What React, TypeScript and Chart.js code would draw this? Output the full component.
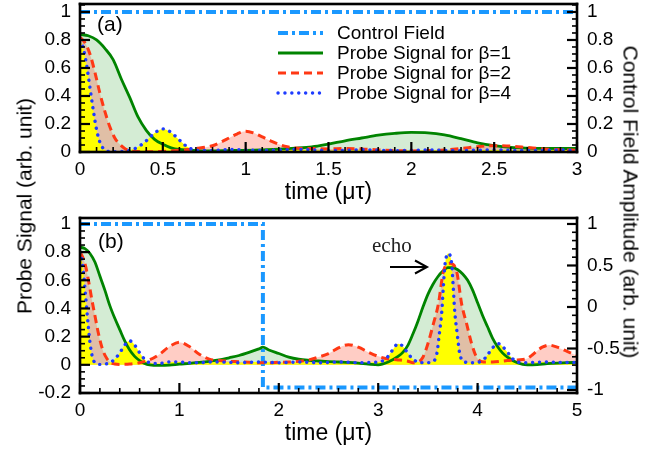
import React, { useEffect, useRef } from "react";
import { Chart, registerables } from "chart.js";

Chart.register(...registerables);

// ---------------- Panel (a) data ----------------
const A_CTRL_T = [0, 3];
const A_CTRL = [1, 1];

const A_G_T = [0, 0.05, 0.1, 0.15, 0.2, 0.25, 0.3, 0.35, 0.4, 0.45, 0.5, 0.55, 0.6, 0.7, 0.8, 0.9, 1.0, 1.1, 1.2, 1.3, 1.4, 1.5, 1.6, 1.7, 1.8, 1.9, 2.0, 2.1, 2.2, 2.3, 2.4, 2.5, 2.6, 2.7, 2.8, 2.9, 3.0];
const A_G = [0.84, 0.83, 0.8, 0.74, 0.66, 0.52, 0.39, 0.25, 0.155, 0.09, 0.055, 0.03, 0.018, 0.01, 0.008, 0.01, 0.012, 0.015, 0.02, 0.027, 0.037, 0.057, 0.08, 0.1, 0.12, 0.133, 0.14, 0.137, 0.122, 0.095, 0.065, 0.045, 0.033, 0.028, 0.026, 0.025, 0.025];

const A_R_T = [0, 0.03, 0.06, 0.09, 0.12, 0.15, 0.18, 0.21, 0.24, 0.27, 0.3, 0.35, 0.4, 0.5, 0.6, 0.7, 0.8, 0.85, 0.9, 0.95, 1.0, 1.05, 1.1, 1.15, 1.2, 1.25, 1.3, 1.4, 1.5, 1.6, 1.7, 1.8, 1.9, 2.0, 2.1, 2.2, 2.3, 2.4, 2.5, 2.6, 2.7, 2.8, 2.9, 3.0];
const A_R = [0.82, 0.78, 0.7, 0.57, 0.42, 0.29, 0.18, 0.1, 0.055, 0.025, 0.01, 0.003, 0.002, 0.004, 0.012, 0.025, 0.045, 0.07, 0.1, 0.13, 0.148, 0.135, 0.108, 0.08, 0.055, 0.037, 0.028, 0.025, 0.022, 0.025, 0.022, 0.015, 0.01, 0.008, 0.01, 0.015, 0.025, 0.038, 0.045, 0.042, 0.032, 0.022, 0.016, 0.013];

const A_B_T = [0, 0.02, 0.04, 0.06, 0.08, 0.1, 0.12, 0.14, 0.16, 0.2, 0.25, 0.3, 0.35, 0.4, 0.45, 0.5, 0.55, 0.6, 0.65, 0.7, 0.8, 0.9, 1.0, 1.1, 1.2, 1.3, 1.4, 1.5, 1.6, 1.7, 1.8, 1.9, 2.0, 2.1, 2.2, 2.3, 2.4, 2.5, 2.6, 2.7, 2.8, 2.9, 3.0];
const A_B = [0.8, 0.74, 0.62, 0.46, 0.3, 0.16, 0.07, 0.025, 0.008, 0.002, 0.003, 0.012, 0.035, 0.08, 0.135, 0.165, 0.14, 0.085, 0.035, 0.012, 0.01, 0.018, 0.015, 0.01, 0.014, 0.018, 0.015, 0.01, 0.012, 0.016, 0.013, 0.01, 0.012, 0.015, 0.012, 0.01, 0.013, 0.016, 0.012, 0.01, 0.012, 0.014, 0.012];

// ---------------- Panel (b) data ----------------
const B_CTRL_T = [0, 1.84, 1.84, 5];
const B_CTRL = [1, 1, -0.97, -0.97];

const B_G_T = [0, 0.05, 0.1, 0.15, 0.2, 0.25, 0.3, 0.35, 0.4, 0.45, 0.5, 0.55, 0.6, 0.65, 0.7, 0.8, 0.9, 1.0, 1.1, 1.2, 1.3, 1.4, 1.5, 1.6, 1.7, 1.8, 1.84, 1.9, 2.0, 2.1, 2.2, 2.3, 2.4, 2.5, 2.6, 2.7, 2.8, 2.9, 3.0, 3.1, 3.2, 3.25, 3.3, 3.35, 3.4, 3.45, 3.5, 3.55, 3.6, 3.65, 3.7, 3.75, 3.8, 3.85, 3.9, 3.95, 4.0, 4.05, 4.1, 4.15, 4.2, 4.25, 4.3, 4.4, 4.5, 4.6, 4.7, 4.8, 4.9, 5.0];
const B_G = [0.835, 0.825, 0.79, 0.73, 0.63, 0.53, 0.42, 0.33, 0.25, 0.17, 0.105, 0.06, 0.03, 0.01, 0.0, -0.004, -0.002, 0.005, 0.01, 0.017, 0.025, 0.035, 0.05, 0.066, 0.088, 0.113, 0.125, 0.105, 0.08, 0.055, 0.04, 0.032, 0.027, 0.023, 0.02, 0.017, 0.012, 0.005, 0.0, 0.02, 0.06, 0.09, 0.14, 0.22, 0.31, 0.41, 0.5, 0.57, 0.625, 0.665, 0.69, 0.69, 0.675, 0.645, 0.6, 0.53, 0.44, 0.35, 0.27, 0.19, 0.13, 0.085, 0.055, 0.015, 0.0, 0.002, 0.008, 0.012, 0.015, 0.017];

const B_R_T = [0, 0.03, 0.06, 0.09, 0.12, 0.15, 0.18, 0.21, 0.24, 0.27, 0.3, 0.35, 0.4, 0.5, 0.6, 0.7, 0.8, 0.9, 1.0, 1.1, 1.2, 1.3, 1.4, 1.5, 1.6, 1.7, 1.8, 1.9, 2.0, 2.1, 2.2, 2.3, 2.4, 2.5, 2.55, 2.6, 2.7, 2.8, 2.9, 3.0, 3.1, 3.2, 3.3, 3.35, 3.4, 3.45, 3.5, 3.555, 3.605, 3.655, 3.72, 3.79, 3.84, 3.89, 3.94, 3.99, 4.06, 4.15, 4.3, 4.4, 4.5, 4.55, 4.6, 4.65, 4.72, 4.8, 4.9, 5.0];
const B_R = [0.8, 0.76, 0.69, 0.58, 0.46, 0.35, 0.24, 0.15, 0.085, 0.045, 0.02, 0.006, 0.003, 0.005, 0.015, 0.035, 0.075, 0.13, 0.16, 0.13, 0.075, 0.04, 0.03, 0.025, 0.022, 0.018, 0.015, 0.015, 0.018, 0.02, 0.025, 0.035, 0.055, 0.08, 0.1, 0.12, 0.143, 0.125, 0.09, 0.06, 0.042, 0.035, 0.025, 0.015, 0.02, 0.054, 0.15, 0.29, 0.43, 0.66, 0.72, 0.66, 0.43, 0.29, 0.15, 0.054, 0.02, 0.02, 0.03, 0.035, 0.045, 0.07, 0.1, 0.125, 0.14, 0.125, 0.095, 0.065];

const B_B_T = [0, 0.02, 0.04, 0.06, 0.08, 0.1, 0.12, 0.14, 0.16, 0.2, 0.25, 0.3, 0.35, 0.4, 0.45, 0.5, 0.55, 0.6, 0.65, 0.7, 0.8, 0.9, 1.0, 1.1, 1.2, 1.3, 1.4, 1.5, 1.6, 1.7, 1.8, 1.9, 2.0, 2.1, 2.2, 2.3, 2.4, 2.5, 2.6, 2.7, 2.8, 2.9, 3.0, 3.05, 3.1, 3.15, 3.2, 3.25, 3.3, 3.35, 3.4, 3.47, 3.54, 3.59, 3.615, 3.64, 3.655, 3.672, 3.705, 3.74, 3.755, 3.77, 3.795, 3.82, 3.87, 3.95, 4.05, 4.1, 4.15, 4.21, 4.25, 4.3, 4.35, 4.4, 4.5, 4.6, 4.7, 4.8, 4.9, 5.0];
const B_B = [0.8, 0.74, 0.62, 0.46, 0.3, 0.16, 0.07, 0.025, 0.008, 0.003, 0.005, 0.015, 0.04, 0.085, 0.14, 0.17, 0.14, 0.085, 0.04, 0.015, 0.01, 0.02, 0.02, 0.015, 0.015, 0.02, 0.02, 0.018, 0.015, 0.018, 0.02, 0.018, 0.015, 0.017, 0.02, 0.018, 0.015, 0.017, 0.02, 0.018, 0.015, 0.017, 0.02, 0.03, 0.06, 0.11, 0.15, 0.13, 0.08, 0.04, 0.02, 0.015, 0.02, 0.08, 0.22, 0.38, 0.55, 0.71, 0.79, 0.71, 0.55, 0.38, 0.22, 0.08, 0.02, 0.015, 0.03, 0.07, 0.12, 0.15, 0.13, 0.09, 0.045, 0.02, 0.015, 0.018, 0.02, 0.018, 0.016, 0.018];

// ---------------- labels ----------------
const LEGEND_LABELS = ["Control Field", "Probe Signal for \u03b2=1", "Probe Signal for \u03b2=2", "Probe Signal for \u03b2=4"];
const X_TITLE = "time (\u03bc\u03c4)";
const Y_LEFT_TITLE = "Probe Signal (arb. unit)";
const Y_RIGHT_TITLE = "Control Field Amplitude (arb. unit)";

// ---------------- styles ----------------
const FONT = '"Liberation Sans", Arial, Helvetica, sans-serif';
const SERIF = '"Liberation Serif", "Times New Roman", serif';
const C_CTRL = "#1a98ff";
const C_G = "#008400";
const C_R = "#ff3814";
const C_B = "#1e3cff";
const F_G = "rgba(0,140,0,0.17)";
const F_R = "rgba(255,70,40,0.27)";
const F_B = "#ffff00";

const STY = {
  ctrl: { color: C_CTRL, width: 4, dash: [10, 4, 3, 4], cap: "butt" },
  g: { color: C_G, width: 2.8, dash: [] as number[], cap: "butt" },
  r: { color: C_R, width: 3, dash: [8, 5], cap: "butt" },
  b: { color: C_B, width: 3.4, dash: [0.1, 6.8], cap: "round" },
};

function pts(t: number[], v: number[]) {
  return t.map((x, i) => ({ x, y: v[i] }));
}

function fitX(h: number) {
  return (s: any) => { s.height = h; s.paddingLeft = 0; s.paddingRight = 0; s.paddingTop = 0; s.paddingBottom = 0; };
}
function fitY(w: number) {
  return (s: any) => { s.width = w; s.paddingLeft = 0; s.paddingRight = 0; s.paddingTop = 0; s.paddingBottom = 0; };
}

// Frame + inward major/minor ticks, drawn on an overlay canvas from the chart's own scales
function drawFrame(canvas: HTMLCanvasElement, chart: any, cfg: any) {
  const ctx = canvas.getContext("2d");
  if (!ctx) return;
  ctx.clearRect(0, 0, canvas.width, canvas.height);
  const sx = chart.scales.x;
  const sy = chart.scales.y;
  const sy2 = chart.scales.y2;
  const left = sx.getPixelForValue(cfg.xMin);
  const right = sx.getPixelForValue(cfg.xMax);
  const top = sy.getPixelForValue(cfg.yMax);
  const bottom = sy.getPixelForValue(cfg.yMin);
  ctx.fillStyle = "#000";
  const drawSet = (scale: any, lo: number, hi: number, minor: number, major: number, side: string) => {
    const k0 = Math.ceil(lo / minor - 1e-6);
    const k1 = Math.floor(hi / minor + 1e-6);
    for (let k = k0; k <= k1; k++) {
      const v = k * minor;
      const r = v / major;
      const isMajor = Math.abs(r - Math.round(r)) < 1e-6;
      const len = isMajor ? 10 : 5;
      const w = isMajor ? 2.2 : 1.6;
      const p = scale.getPixelForValue(v);
      if (side === "bottom") ctx.fillRect(p - w / 2, bottom - len, w, len);
      else if (side === "left") ctx.fillRect(left, p - w / 2, len, w);
      else ctx.fillRect(right - len, p - w / 2, len, w);
    }
  };
  drawSet(sx, cfg.xMin, cfg.xMax, cfg.xMinor, cfg.xMajor, "bottom");
  drawSet(sy, cfg.yMin, cfg.yMax, cfg.yMinor, cfg.yMajor, "left");
  drawSet(sy2, cfg.y2Min, cfg.y2Max, cfg.y2Minor, cfg.y2Major, "right");
  const bw = 2.6;
  ctx.fillRect(left - bw / 2, top - bw / 2, right - left + bw, bw);
  ctx.fillRect(left - bw / 2, bottom - bw / 2, right - left + bw, bw);
  ctx.fillRect(left - bw / 2, top - bw / 2, bw, bottom - top + bw);
  ctx.fillRect(right - bw / 2, top - bw / 2, bw, bottom - top + bw);
}

type TextItem = { text: string; x: number; y: number; font: string; align?: CanvasTextAlign; color?: string };

function annotPlugin(cfg: {
  texts: TextItem[];
  legend?: { x0: number; x1: number; tx: number; rows: number[] };
  arrow?: { x0: number; x1: number; y: number };
}) {
  return {
    id: "annot",
    afterDraw(chart: any) {
      const ctx = chart.ctx;
      ctx.save();
      if (cfg.legend) {
        const L = cfg.legend;
        const styles = [STY.ctrl, STY.g, STY.r, STY.b];
        styles.forEach((s, i) => {
          const y = L.rows[i];
          ctx.save();
          ctx.strokeStyle = s.color;
          ctx.lineWidth = s.width;
          ctx.setLineDash(s.dash);
          ctx.lineCap = s.cap as CanvasLineCap;
          ctx.beginPath();
          ctx.moveTo(L.x0, y);
          ctx.lineTo(L.x1, y);
          ctx.stroke();
          ctx.restore();
          ctx.fillStyle = "#000";
          ctx.font = `19px ${FONT}`;
          ctx.textAlign = "left";
          ctx.textBaseline = "middle";
          ctx.fillText(LEGEND_LABELS[i], L.tx, y + 1);
        });
      }
      if (cfg.arrow) {
        const A = cfg.arrow;
        ctx.save();
        ctx.strokeStyle = "#000";
        ctx.lineWidth = 2;
        ctx.setLineDash([]);
        ctx.lineCap = "butt";
        ctx.beginPath();
        ctx.moveTo(A.x0, A.y);
        ctx.lineTo(A.x1, A.y);
        ctx.moveTo(A.x1 - 12, A.y - 6.5);
        ctx.lineTo(A.x1, A.y);
        ctx.lineTo(A.x1 - 12, A.y + 6.5);
        ctx.stroke();
        ctx.restore();
      }
      cfg.texts.forEach((t) => {
        ctx.fillStyle = t.color || "#000";
        ctx.font = t.font;
        ctx.textAlign = t.align || "left";
        ctx.textBaseline = "middle";
        ctx.fillText(t.text, t.x, t.y);
      });
      ctx.restore();
    },
  };
}

function lineDs(label: string, data: any[], s: any, fillColor: string | null, axis: string, smooth: boolean) {
  return {
    label,
    data,
    borderColor: s.color,
    borderWidth: s.width,
    borderDash: s.dash,
    borderCapStyle: s.cap,
    backgroundColor: fillColor || "transparent",
    fill: fillColor ? "origin" : false,
    pointRadius: 0,
    pointHoverRadius: 0,
    yAxisID: axis,
    ...(smooth ? { cubicInterpolationMode: "monotone" } : { tension: 0 }),
  };
}

function fmt(v: any) {
  const n = Math.round(Number(v) * 1000) / 1000;
  return String(n === 0 ? 0 : n);
}

function axisTicks(step: number, pad: number) {
  return {
    stepSize: step,
    padding: pad,
    color: "#000",
    font: { size: 19, family: FONT },
    maxRotation: 0,
    autoSkip: false,
    includeBounds: false,
    callback: fmt,
  };
}

function makeConfig(p: any) {
  return {
    type: "line",
    data: { datasets: p.ds },
    options: {
      responsive: false,
      animation: false,
      devicePixelRatio: 1,
      events: [],
      layout: { padding: { top: p.topPad, left: 0, right: 0, bottom: 0 } },
      plugins: {
        legend: { display: false },
        tooltip: { enabled: false },
        filler: { drawTime: "beforeDatasetsDraw" },
      },
      scales: {
        x: {
          type: "linear", min: 0, max: p.xMax,
          grid: { display: false, drawTicks: false },
          border: { display: false },
          ticks: axisTicks(p.xStep, 6),
          afterFit: fitX(p.xH),
        },
        y: {
          type: "linear", position: "left", min: p.yMin, max: p.yMax,
          grid: { display: false, drawTicks: false },
          border: { display: false },
          ticks: axisTicks(p.yStep, 9),
          afterFit: fitY(80),
        },
        y2: {
          type: "linear", position: "right", min: p.y2Min, max: p.y2Max,
          grid: { display: false, drawTicks: false },
          border: { display: false },
          ticks: axisTicks(p.y2Step, 10),
          afterFit: fitY(94),
        },
      },
    },
    plugins: [annotPlugin(p.annot)],
  };
}

const FRAME_A = { xMin: 0, xMax: 3, yMin: 0, yMax: 1.057, y2Min: 0, y2Max: 1.057, xMinor: 0.1, xMajor: 0.5, yMinor: 0.05, yMajor: 0.2, y2Minor: 0.05, y2Major: 0.2 };
const FRAME_B = { xMin: 0, xMax: 5, yMin: -0.2, yMax: 1.042, y2Min: -1.036, y2Max: 1.072, xMinor: 0.2, xMajor: 1, yMinor: 0.05, yMajor: 0.2, y2Minor: 0.1, y2Major: 0.5 };

function configA() {
  return makeConfig({
    xMax: FRAME_A.xMax, xStep: 0.5,
    yMin: FRAME_A.yMin, yMax: FRAME_A.yMax, yStep: 0.2,
    y2Min: FRAME_A.y2Min, y2Max: FRAME_A.y2Max, y2Step: 0.2,
    topPad: 4, xH: 58,
    ds: [
      lineDs(LEGEND_LABELS[3], pts(A_B_T, A_B), STY.b, F_B, "y", true),
      lineDs(LEGEND_LABELS[2], pts(A_R_T, A_R), STY.r, F_R, "y", true),
      lineDs(LEGEND_LABELS[1], pts(A_G_T, A_G), STY.g, F_G, "y", true),
      lineDs(LEGEND_LABELS[0], pts(A_CTRL_T, A_CTRL), STY.ctrl, null, "y2", false),
    ],
    annot: {
      legend: { x0: 278, x1: 323, tx: 337, rows: [33, 53, 73, 93] },
      texts: [
        { text: "(a)", x: 97, y: 25, font: `21px ${FONT}` },
        { text: X_TITLE, x: 328.5, y: 193, font: `23px ${FONT}`, align: "center" },
      ],
    },
  });
}

function configB() {
  return makeConfig({
    xMax: FRAME_B.xMax, xStep: 1,
    yMin: FRAME_B.yMin, yMax: FRAME_B.yMax, yStep: 0.2,
    y2Min: FRAME_B.y2Min, y2Max: FRAME_B.y2Max, y2Step: 0.5,
    topPad: 13, xH: 62,
    ds: [
      lineDs(LEGEND_LABELS[3], pts(B_B_T, B_B), STY.b, F_B, "y", true),
      lineDs(LEGEND_LABELS[2], pts(B_R_T, B_R), STY.r, F_R, "y", true),
      lineDs(LEGEND_LABELS[1], pts(B_G_T, B_G), STY.g, F_G, "y", true),
      lineDs(LEGEND_LABELS[0], pts(B_CTRL_T, B_CTRL), STY.ctrl, null, "y2", false),
    ],
    annot: {
      arrow: { x0: 390, x1: 427, y: 62 },
      texts: [
        { text: "(b)", x: 98, y: 37, font: `21px ${FONT}` },
        { text: "echo", x: 372, y: 41, font: `21px ${SERIF}`, color: "#222" },
        { text: X_TITLE, x: 328.5, y: 229, font: `23px ${FONT}`, align: "center" },
      ],
    },
  });
}

function Panel(props: { top: number; height: number; build: () => any; frame: any }) {
  const ref = useRef<HTMLCanvasElement>(null);
  const ovl = useRef<HTMLCanvasElement>(null);
  useEffect(() => {
    const chart = new Chart(ref.current as HTMLCanvasElement, props.build());
    if (ovl.current) drawFrame(ovl.current, chart, props.frame);
    return () => chart.destroy();
  }, []);
  const st: React.CSSProperties = { position: "absolute", left: 0, top: props.top, width: 671, height: props.height };
  return (
    <>
      <canvas ref={ref} width={671} height={props.height} style={st} />
      <canvas ref={ovl} width={671} height={props.height} style={{ ...st, pointerEvents: "none" }} />
    </>
  );
}

export default function App() {
  const titleStyle: React.CSSProperties = {
    position: "absolute",
    fontFamily: FONT,
    fontSize: 21,
    lineHeight: "1",
    whiteSpace: "nowrap",
    color: "#000",
  };
  return (
    <div style={{ position: "absolute", left: 0, top: 0, width: 671, height: 455, background: "#fff", overflow: "hidden" }}>
      <Panel top={0} height={210} build={configA} frame={FRAME_A} />
      <Panel top={205} height={250} build={configB} frame={FRAME_B} />
      <div style={{ ...titleStyle, left: 24, top: 206, transform: "translate(-50%, -50%) rotate(-90deg)" }}>{Y_LEFT_TITLE}</div>
      <div style={{ ...titleStyle, left: 631, top: 202, transform: "translate(-50%, -50%) rotate(90deg)" }}>{Y_RIGHT_TITLE}</div>
    </div>
  );
}
